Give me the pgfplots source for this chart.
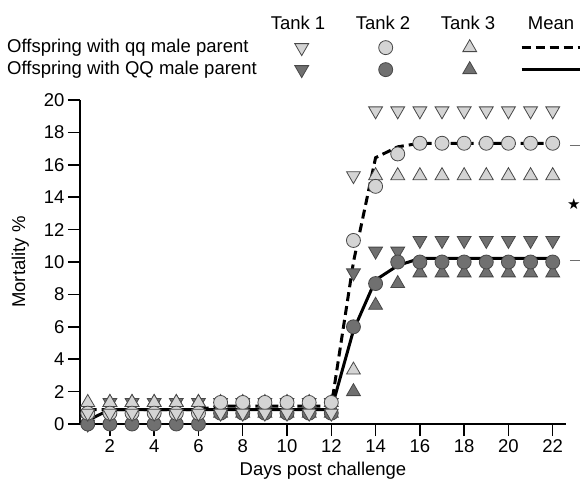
\documentclass[border=0pt]{standalone}
\usepackage{pgfplots}
\pgfplotsset{compat=1.18}
\usepackage{fontspec}
\setmainfont{Liberation Sans}
\newfontfamily\djv{DejaVu Sans}
\definecolor{lightf}{RGB}{212,212,212}
\definecolor{darkf}{RGB}{112,112,112}
\definecolor{edgec}{RGB}{72,72,72}
\definecolor{annc}{RGB}{110,110,110}
\newcommand\fs{\fontsize{18.5}{22}\selectfont}
\pgfplotsset{
 legmark/.style={legend image code/.code={\path[draw=none,fill=none] (0pt,-9pt) rectangle (70pt,9pt); \draw[##1] plot coordinates {(45pt,0pt)};}},
 legline/.style={legend image code/.code={\path[draw=none,fill=none] (0pt,-9pt) rectangle (70pt,9pt); \draw[##1] (13pt,0pt) -- (95pt,0pt);}},
 dtri/.style={mark=triangle*, mark size=8pt, mark options={rotate=180, solid, fill=#1, draw=edgec, line width=0.8pt}},
 utri/.style={mark=triangle*, mark size=8pt, mark options={solid, fill=#1, draw=edgec, line width=0.8pt}},
 circ/.style={mark=*, mark size=7pt, mark options={solid, fill=#1, draw=edgec, line width=0.8pt}},
 dashmean/.style={black, line width=3pt, dash pattern=on 9pt off 5pt, mark=none},
 solidmean/.style={black, line width=3pt, solid, mark=none},
}
\begin{document}
\begin{tikzpicture}[font=\fs]
\path[use as bounding box] (-80pt,-61pt) rectangle (500pt,424pt);
\begin{axis}[
 at={(0pt,0pt)}, anchor=south west,
 scale only axis, width=486pt, height=324pt,
 xmin=0.65, xmax=22.6, ymin=0, ymax=20,
 axis x line*=bottom, axis y line*=left,
 xtick={2,4,...,22}, ytick={0,2,...,20},
 tick align=outside, major tick length=12pt,
 tick style={black, line width=1.5pt},
 axis line style={black, line width=1.5pt, -},
 /pgf/number format/assume math mode=true,
 tick label style={font=\fs},
 label style={font=\fs},
 xlabel={Days post challenge}, ylabel={Mortality \%},
 xlabel style={yshift=-3pt}, ylabel style={yshift=8pt},
 clip=false,
 legend columns=4, legend plot pos=right, legend cell align=left,
 legend style={at={(-0.1502,1.19)}, anchor=north west, draw=none, fill=none,
   inner sep=0pt, font=\fs,
   nodes={inner xsep=0pt, inner ysep=0pt, text height=14pt, text depth=4pt},
   /tikz/every even column/.append style={column sep=13pt}, row sep=4pt},
]
% legend images
\addlegendimage{legmark, dtri=lightf}
\addlegendimage{legmark, circ=lightf}
\addlegendimage{legmark, utri=lightf}
\addlegendimage{legline, dashmean}
\addlegendimage{legmark, dtri=darkf}
\addlegendimage{legmark, circ=darkf}
\addlegendimage{legmark, utri=darkf}
\addlegendimage{legline, solidmean}
\legend{Offspring with qq male parent,{\mbox{}},{\mbox{}},{\mbox{}},Offspring with QQ male parent,{\mbox{}},{\mbox{}},{\mbox{}}}

% QQ tank 3 (dark up)
\addplot[forget plot, only marks, utri=darkf] table {
x y
1 0.67
2 1.33
3 1.33
4 1.33
5 1.33
6 1.33
7 0.67
8 0.67
9 0.67
10 0.67
11 0.67
12 0.67
13 2.00
14 7.33
15 8.67
16 9.33
17 9.33
18 9.33
19 9.33
20 9.33
21 9.33
22 9.33
};
% QQ tank 1 (dark down)
\addplot[forget plot, only marks, dtri=darkf] table {
x y
1 0
2 1.33
3 1.33
4 1.33
5 1.33
6 1.33
7 1.33
8 1.33
9 1.33
10 1.33
11 1.33
12 1.33
13 9.33
14 10.67
15 10.67
16 11.33
17 11.33
18 11.33
19 11.33
20 11.33
21 11.33
22 11.33
};
% qq tank 3 (light up)
\addplot[forget plot, only marks, utri=lightf] table {
x y
1 1.33
2 1.33
3 1.33
4 1.33
5 1.33
6 1.33
7 1.33
8 1.33
9 1.33
10 1.33
11 1.33
12 1.33
13 3.33
14 15.33
15 15.33
16 15.33
17 15.33
18 15.33
19 15.33
20 15.33
21 15.33
22 15.33
};
% means
\addplot[forget plot, dashmean] table {
x y
1 0.89
2 0.89
3 0.89
4 0.89
5 0.89
6 0.89
7 1.11
8 1.11
9 1.11
10 1.11
11 1.11
12 1.11
13 10.00
14 16.44
15 17.11
16 17.33
17 17.33
18 17.33
19 17.33
20 17.33
21 17.33
22 17.33
};
\addplot[forget plot, solidmean] table {
x y
1 0.22
2 0.89
3 0.89
4 0.89
5 0.89
6 0.89
7 0.89
8 0.89
9 0.89
10 0.89
11 0.89
12 0.89
13 5.78
14 8.89
15 9.78
16 10.22
17 10.22
18 10.22
19 10.22
20 10.22
21 10.22
22 10.22
};
% QQ tank 2 (dark circle)
\addplot[forget plot, only marks, circ=darkf] table {
x y
1 0
2 0
3 0
4 0
5 0
6 0
7 0.67
8 0.67
9 0.67
10 0.67
11 0.67
12 0.67
13 6.00
14 8.67
15 10.00
16 10.00
17 10.00
18 10.00
19 10.00
20 10.00
21 10.00
22 10.00
};
% qq tank 2 (light circle)
\addplot[forget plot, only marks, circ=lightf] table {
x y
1 0.67
2 0.67
3 0.67
4 0.67
5 0.67
6 0.67
7 1.33
8 1.33
9 1.33
10 1.33
11 1.33
12 1.33
13 11.33
14 14.67
15 16.67
16 17.33
17 17.33
18 17.33
19 17.33
20 17.33
21 17.33
22 17.33
};
% qq tank 1 (light down)
\addplot[forget plot, only marks, dtri=lightf] table {
x y
1 0.67
2 0.67
3 0.67
4 0.67
5 0.67
6 0.67
7 0.67
8 0.67
9 0.67
10 0.67
11 0.67
12 0.67
13 15.33
14 19.33
15 19.33
16 19.33
17 19.33
18 19.33
19 19.33
20 19.33
21 19.33
22 19.33
};
% significance annotation
\draw[annc, line width=1.2pt] (axis cs:22.78,17.2) -- (axis cs:23.4,17.2);
\draw[annc, line width=1.2pt] (axis cs:22.78,10.1) -- (axis cs:23.4,10.1);
\node[font=\djv\fontsize{15}{15}\selectfont, inner sep=0pt] at (axis cs:22.95,13.6) {★};
\end{axis}
\node[anchor=center] at (218pt,401pt) {Tank 1};
\node[anchor=center] at (303pt,401pt) {Tank 2};
\node[anchor=center] at (388pt,401pt) {Tank 3};
\node[anchor=center] at (471pt,401pt) {Mean};
\end{tikzpicture}
\end{document}
